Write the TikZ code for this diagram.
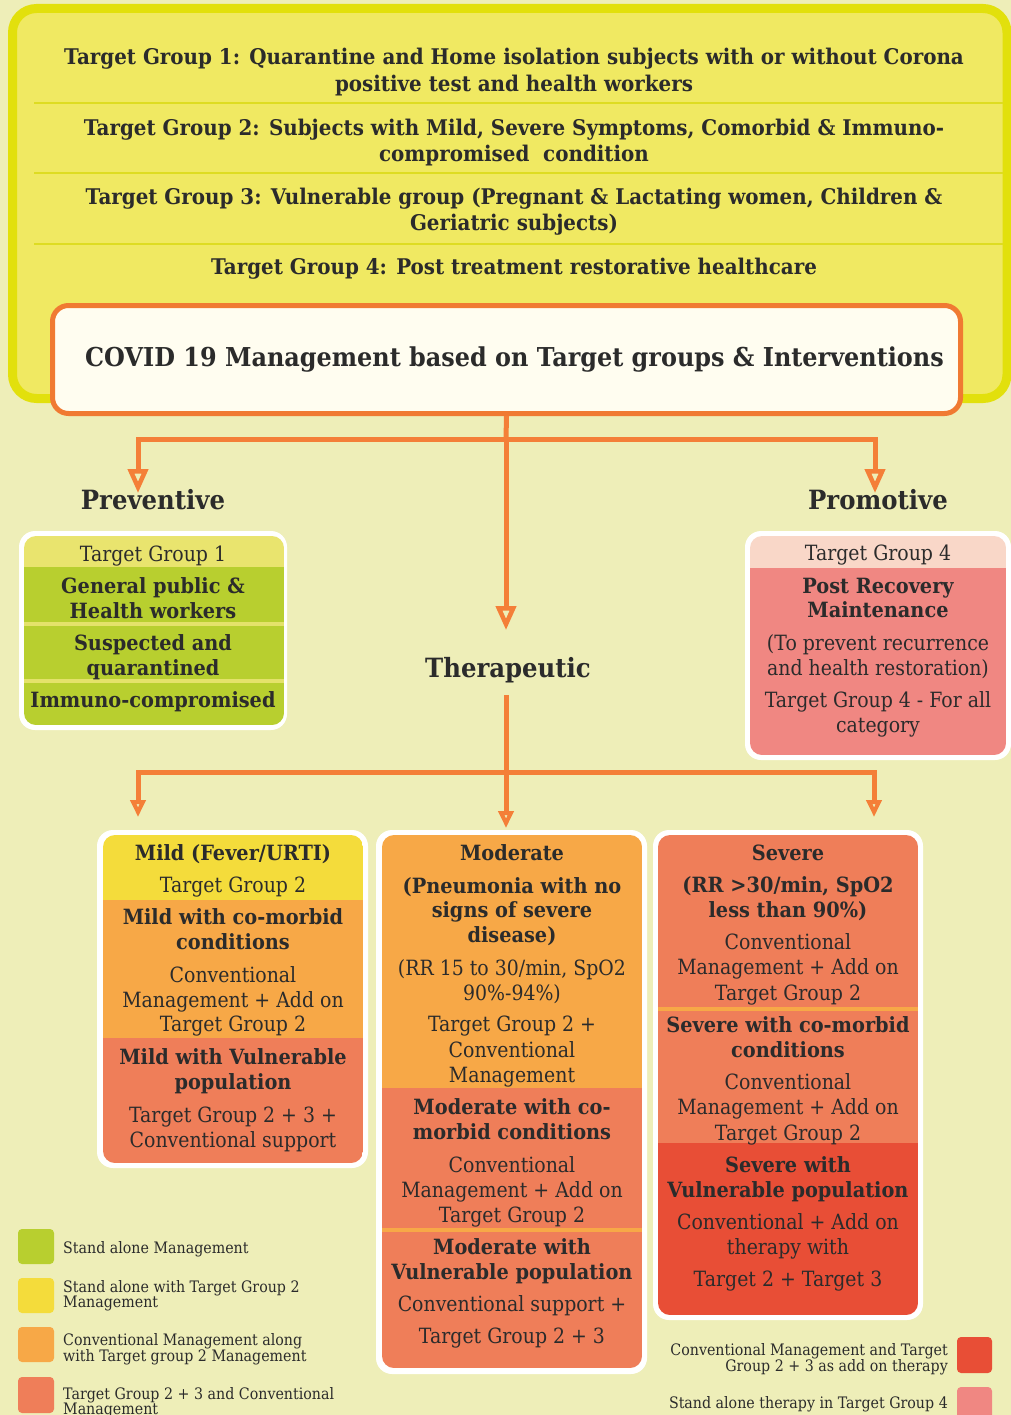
\documentclass[tikz,border=0pt]{standalone}
\usepackage{fontspec}
\setmainfont{DejaVu Serif}[FakeStretch=0.9]
\newfontfamily\bfam{DejaVu Serif}[FakeStretch=0.92]
\usetikzlibrary{arrows.meta}
\definecolor{bg}{HTML}{EEEEB8}
\definecolor{topfill}{HTML}{F0E962}
\definecolor{topborder}{HTML}{E2E00C}
\definecolor{sepline}{HTML}{DEDC22}
\definecolor{covfill}{HTML}{FFFDF0}
\definecolor{covborder}{HTML}{F07A32}
\definecolor{connc}{HTML}{F47F38}
\definecolor{tgone}{HTML}{E9E46E}
\definecolor{grn}{HTML}{B8CF2F}
\definecolor{grnsep}{HTML}{E4E26A}
\definecolor{tgfour}{HTML}{F9D7C8}
\definecolor{pnk}{HTML}{F08782}
\definecolor{yel}{HTML}{F4DC3B}
\definecolor{org}{HTML}{F7A847}
\definecolor{sal}{HTML}{EF7E59}
\definecolor{redd}{HTML}{E84E36}
\definecolor{ink}{HTML}{2B2B2B}
\tikzset{
  x=1pt, y=-1pt,
  connline/.style={draw=connc, line width=5pt},
  conntop/.style={connline, -{Triangle[open, length=24pt, width=20pt, line width=4.5pt]}},
  connbot/.style={connline, -{Triangle[open, length=17pt, width=15pt, line width=4pt]}},
  rt/.style={anchor=mid, yshift=-5pt, inner sep=0pt, text=ink, font=\fontsize{21}{25}\selectfont},
  bt/.style={anchor=mid, yshift=-5pt, inner sep=0pt, text=ink, font=\bfam\bfseries\fontsize{21}{25}\selectfont},
  titlet/.style={anchor=mid, yshift=-5pt, inner sep=0pt, text=ink, font=\bfam\bfseries\fontsize{21.6}{26}\selectfont},
  headt/.style={anchor=mid, yshift=-5pt, inner sep=0pt, text=ink, font=\bfam\bfseries\fontsize{26.5}{30}\selectfont},
  legl/.style={anchor=mid west, yshift=-4pt, inner sep=0pt, text=ink, font=\fontsize{15.8}{16}\selectfont},
  legr/.style={anchor=mid east, yshift=-4pt, inner sep=0pt, text=ink, font=\fontsize{15.8}{16}\selectfont},
  wbox/.style={fill=white, rounded corners=16pt, inner sep=0pt, outer sep=0pt},
  legsq/.style={rounded corners=4pt},
}
\newcommand\TL[5]{\node[#4] (#1) at (#2,#3) {#5};}
\begin{document}
\begin{tikzpicture}
\useasboundingbox (0,0) rectangle (1011,1415);
\fill[bg] (0,0) rectangle (1011,1415);

% top panel
\draw[topborder, line width=9pt, fill=topfill, rounded corners=24pt] (12.5,8.5) rectangle (1007,398.5);
\foreach \yy in {103,173,244} \draw[sepline, line width=2.5pt] (34,\yy) -- (1003,\yy);
\TL{g1a}{514}{57}{titlet}{Target Group 1: Quarantine and Home isolation subjects with or without Corona}
\TL{g1b}{514}{84}{titlet}{positive test and health workers}
\TL{g2a}{514}{128}{titlet}{Target Group 2: Subjects with Mild, Severe Symptoms, Comorbid \& Immuno-}
\TL{g2b}{514}{154}{titlet}{compromised\ \ condition}
\TL{g3a}{514}{197}{titlet}{Target Group 3: Vulnerable group (Pregnant \& Lactating women, Children \&}
\TL{g3b}{514}{223}{titlet}{Geriatric subjects)}
\TL{g4a}{514}{267}{titlet}{Target Group 4: Post treatment restorative healthcare}

\node[draw=covborder, line width=5pt, fill=covfill, rounded corners=16pt,
  minimum width=908pt, minimum height=108pt, inner sep=0pt,
  text=ink, font=\bfam\bfseries\fontsize{26}{30}\selectfont] (covid) at (506.5,359.5)
  {\hspace*{16pt}\raisebox{-3pt}{COVID 19 Management based on Target groups \& Interventions}};

% connectors top
\coordinate (j1) at (506,439);
\coordinate (tPrev) at (138,493);
\coordinate (tProm) at (875,493);
\coordinate (tTher) at (506,630);
\draw[connline] (covid.south) -- (j1);
\draw[conntop] (j1) -| (tPrev);
\draw[conntop] (j1) -| (tProm);
\draw[conntop] (j1) -- (tTher);

\TL{prev}{153}{502}{headt}{Preventive}
\TL{prom}{878}{502}{headt}{Promotive}
\TL{ther}{508}{670}{headt}{Therapeutic}

% preventive panel
\node[wbox, minimum width=268pt, minimum height=199pt] (pbox) at (153,630.5) {};
\begin{scope}
\clip[rounded corners=12pt] (24,536) rectangle (284,725);
\fill[tgone] (24,536) rectangle (284,567);
\fill[grn] (24,567) rectangle (284,725);
\fill[grnsep] (24,622) rectangle (284,626);
\fill[grnsep] (24,679) rectangle (284,683);
\end{scope}
\TL{p1}{153}{554}{rt}{Target Group 1}
\TL{p2}{153}{586}{bt}{General public \&}
\TL{p3}{153}{611}{bt}{Health workers}
\TL{p4}{153}{643}{bt}{Suspected and}
\TL{p5}{153}{668}{bt}{quarantined}
\TL{p6}{153}{700}{bt}{Immuno-compromised}

% promotive panel
\node[wbox, minimum width=266pt, minimum height=229pt] (qbox) at (878,645.5) {};
\begin{scope}
\clip[rounded corners=12pt] (750,536) rectangle (1006,755);
\fill[tgfour] (750,536) rectangle (1006,568);
\fill[pnk] (750,568) rectangle (1006,755);
\end{scope}
\TL{q1}{878}{553}{rt}{Target Group 4}
\TL{q2}{878}{586}{bt}{Post Recovery}
\TL{q3}{878}{610}{bt}{Maintenance}
\TL{q4}{878}{643}{rt}{(To prevent recurrence}
\TL{q5}{878}{668}{rt}{and health restoration)}
\TL{q6}{878}{700}{rt}{Target Group 4 - For all}
\TL{q7}{878}{725}{rt}{category}

% connectors bottom
\coordinate (tb) at (506,695);
\coordinate (j2) at (506,772);
\coordinate (tMild) at (138,817);
\coordinate (tMod) at (506,828);
\coordinate (tSev) at (874,817);
\draw[connline] (tb) -- (j2);
\draw[connbot] (j2) -| (tMild);
\draw[connbot] (j2) -| (tSev);
\draw[connbot] (j2) -- (tMod);

% mild panel
\node[wbox, minimum width=271pt, minimum height=338pt] (mild) at (232.5,999) {};
\begin{scope}
\clip[rounded corners=12pt] (103,835) rectangle (363,1163);
\fill[yel] (103,835) rectangle (363,900);
\fill[org] (103,900) rectangle (363,1038);
\fill[sal] (103,1038) rectangle (363,1163);
\end{scope}
\TL{m1}{233}{853}{bt}{Mild (Fever/URTI)}
\TL{m2}{233}{885}{rt}{Target Group 2}
\TL{m3}{233}{917}{bt}{Mild with co-morbid}
\TL{m4}{233}{942}{bt}{conditions}
\TL{m5}{233}{975}{rt}{Conventional}
\TL{m6}{233}{1000}{rt}{Management + Add on}
\TL{m7}{233}{1024}{rt}{Target Group 2}
\TL{m8}{233}{1057}{bt}{Mild with Vulnerable}
\TL{m9}{233}{1082}{bt}{population}
\TL{m10}{233}{1115}{rt}{Target Group 2 + 3 +}
\TL{m11}{233}{1140}{rt}{Conventional support}

% moderate panel
\node[wbox, minimum width=271pt, minimum height=544pt] (mod) at (511.5,1102) {};
\begin{scope}
\clip[rounded corners=12pt] (382,835) rectangle (642,1368);
\fill[org] (382,835) rectangle (642,1088);
\fill[sal] (382,1088) rectangle (642,1368);
\fill[org] (382,1228) rectangle (642,1232);
\end{scope}
\TL{d1}{512}{853}{bt}{Moderate}
\TL{d2}{512}{886}{bt}{(Pneumonia with no}
\TL{d3}{512}{910}{bt}{signs of severe}
\TL{d4}{512}{935}{bt}{disease)}
\TL{d5}{512}{968}{rt}{(RR 15 to 30/min, SpO2}
\TL{d6}{512}{993}{rt}{90\%-94\%)}
\TL{d7}{512}{1024}{rt}{Target Group 2 +}
\TL{d8}{512}{1050}{rt}{Conventional}
\TL{d9}{512}{1075}{rt}{Management}
\TL{d10}{512}{1107}{bt}{Moderate with co-}
\TL{d11}{512}{1132}{bt}{morbid conditions}
\TL{d12}{512}{1165}{rt}{Conventional}
\TL{d13}{512}{1190}{rt}{Management + Add on}
\TL{d14}{512}{1215}{rt}{Target Group 2}
\TL{d15}{512}{1247}{bt}{Moderate with}
\TL{d16}{512}{1272}{bt}{Vulnerable population}
\TL{d17}{512}{1304}{rt}{Conventional support +}
\TL{d18}{512}{1336}{rt}{Target Group 2 + 3}

% severe panel
\node[wbox, minimum width=270pt, minimum height=490pt] (sev) at (788,1075) {};
\begin{scope}
\clip[rounded corners=12pt] (658,835) rectangle (918,1315);
\fill[sal] (658,835) rectangle (918,1143);
\fill[org] (658,1007) rectangle (918,1011);
\fill[redd] (658,1143) rectangle (918,1315);
\end{scope}
\TL{s1}{788}{853}{bt}{Severe}
\TL{s2}{788}{885}{bt}{(RR >30/min, SpO2}
\TL{s3}{788}{910}{bt}{less than 90\%)}
\TL{s4}{788}{942}{rt}{Conventional}
\TL{s5}{788}{967}{rt}{Management + Add on}
\TL{s6}{788}{993}{rt}{Target Group 2}
\TL{s7}{788}{1025}{bt}{Severe with co-morbid}
\TL{s8}{788}{1050}{bt}{conditions}
\TL{s9}{788}{1082}{rt}{Conventional}
\TL{s10}{788}{1107}{rt}{Management + Add on}
\TL{s11}{788}{1133}{rt}{Target Group 2}
\TL{s12}{788}{1165}{bt}{Severe with}
\TL{s13}{788}{1190}{bt}{Vulnerable population}
\TL{s14}{788}{1222}{rt}{Conventional + Add on}
\TL{s15}{788}{1247}{rt}{therapy with}
\TL{s16}{788}{1279}{rt}{Target 2 + Target 3}

% legend left
\fill[grn, legsq] (18,1229) rectangle (54,1264);
\fill[yel, legsq] (18,1278) rectangle (54,1313);
\fill[org, legsq] (18,1327) rectangle (54,1362);
\fill[sal, legsq] (18,1377) rectangle (54,1413);
\TL{l1}{63}{1247}{legl}{Stand alone Management}
\TL{l2}{63}{1286}{legl}{Stand alone with Target Group 2}
\TL{l3}{63}{1301}{legl}{Management}
\TL{l4}{63}{1339}{legl}{Conventional Management along}
\TL{l5}{63}{1355}{legl}{with Target group 2 Management}
\TL{l6}{63}{1393}{legl}{Target Group 2 + 3 and Conventional}
\TL{l7}{63}{1408}{legl}{Management}
% legend right
\fill[redd, legsq] (957,1337) rectangle (992,1373);
\fill[pnk, legsq] (957,1387) rectangle (992,1423);
\TL{r1}{948}{1349}{legr}{Conventional Management and Target}
\TL{r2}{948}{1365}{legr}{Group 2 + 3 as add on therapy}
\TL{r3}{948}{1402}{legr}{Stand alone therapy in Target Group 4}
\end{tikzpicture}
\end{document}
